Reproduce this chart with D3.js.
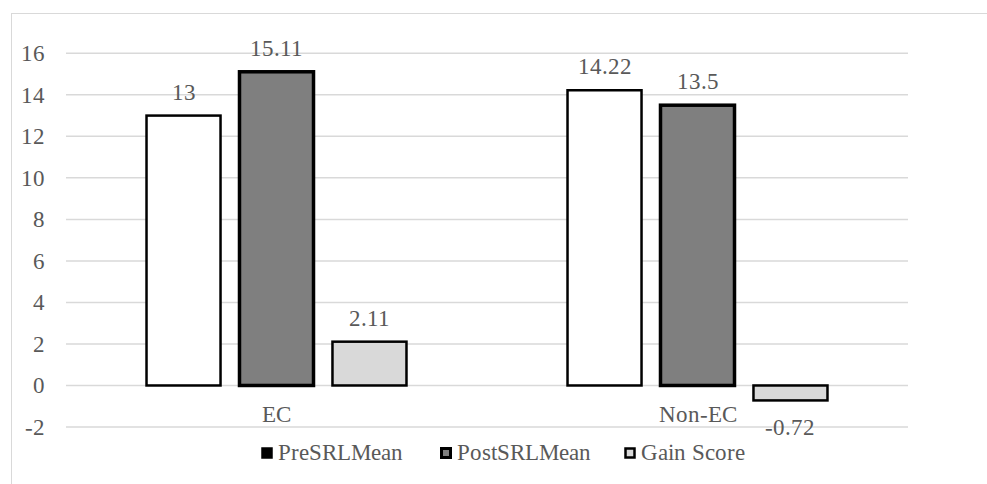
<!DOCTYPE html>
<html>
<head>
<meta charset="utf-8">
<script src="https://cdn.jsdelivr.net/npm/d3@7"></script>
<style>
  @font-face { font-family: "ChartSerif"; src: local("Liberation Serif"), local("LiberationSerif"), local("Times New Roman"); }
  body { margin: 0; }
  #chart text { font-family: "ChartSerif", "Liberation Serif", "Times New Roman", serif; }
</style>
</head>
<body>
<svg id="chart" width="987" height="484"></svg>
<script>
const categories = ["EC", "Non-EC"];
const seriesNames = ["PreSRLMean", "PostSRLMean", "Gain Score"];
const preValues  = [13, 14.22];
const postValues = [15.11, 13.5];
const gainValues = [2.11, -0.72];
const yTicks = [-2, 0, 2, 4, 6, 8, 10, 12, 14, 16];

const seriesStyle = {
    "PreSRLMean":  { fill: "#ffffff", sw: 2.5 },
    "PostSRLMean": { fill: "#7f7f7f", sw: 3.5 },
    "Gain Score":  { fill: "#d9d9d9", sw: 2.5 }
};

const svg = d3.select("#chart");
const fontSize = "23px";
const textColor = "#595959";

function styleText(sel) {
    return sel.attr("font-family", "Liberation Serif")
        .attr("font-size", fontSize)
        .attr("fill", textColor);
}

// chart frame
svg.append("rect")
    .attr("x", 11.5).attr("y", 13.5)
    .attr("width", 1000).attr("height", 500)
    .attr("fill", "none")
    .attr("stroke", "#d9d9d9");

const left = 66, right = 908;
const y = d3.scaleLinear().domain([-2, 16]).range([427, 53.3]);

const x0 = d3.scaleBand().domain(categories).range([left, right]);
const x1 = d3.scaleBand().domain(seriesNames)
    .range([0, x0.bandwidth()])
    .paddingInner(0.204)
    .paddingOuter(0.866);

// gridlines
svg.append("g").selectAll("line")
    .data(yTicks)
    .enter().append("line")
    .attr("x1", left).attr("x2", right)
    .attr("y1", d => y(d)).attr("y2", d => y(d))
    .attr("stroke", "#d9d9d9")
    .attr("stroke-width", 1.5);

// y tick labels
svg.append("g").selectAll("text")
    .data(yTicks)
    .enter().append("text")
    .call(styleText)
    .attr("x", 45)
    .attr("y", d => y(d) + 8)
    .attr("text-anchor", "end")
    .text(d => d);

const rows = [];
categories.forEach((c, i) => {
    rows.push({ cat: c, series: "PreSRLMean",  value: preValues[i] });
    rows.push({ cat: c, series: "PostSRLMean", value: postValues[i] });
    rows.push({ cat: c, series: "Gain Score",  value: gainValues[i] });
});

svg.append("g").selectAll("rect")
    .data(rows)
    .enter().append("rect")
    .attr("x", d => x0(d.cat) + x1(d.series))
    .attr("width", x1.bandwidth())
    .attr("y", d => y(Math.max(0, d.value)))
    .attr("height", d => Math.abs(y(d.value) - y(0)))
    .attr("fill", d => seriesStyle[d.series].fill)
    .attr("stroke", "#000")
    .attr("stroke-width", d => seriesStyle[d.series].sw);

// value labels
svg.append("g").selectAll("text")
    .data(rows)
    .enter().append("text")
    .call(styleText)
    .attr("x", d => x0(d.cat) + x1(d.series) + x1.bandwidth() / 2)
    .attr("y", d => d.value >= 0 ? y(d.value) - 16 : y(d.value) + 35)
    .attr("text-anchor", "middle")
    .text(d => d.value);

// category labels
svg.append("g").selectAll("text")
    .data(categories)
    .enter().append("text")
    .call(styleText)
    .attr("x", d => x0(d) + x0.bandwidth() / 2)
    .attr("y", 422)
    .attr("text-anchor", "middle")
    .text(d => d);

// legend (item offsets from the reference)
const legend = svg.append("g");
const legendX = [261, 440, 624];
seriesNames.forEach((s, i) => {
    legend.append("rect")
        .attr("x", legendX[i] + 1.5).attr("y", 448.5)
        .attr("width", 9).attr("height", 9)
        .attr("fill", i === 0 ? "#000" : seriesStyle[s].fill)
        .attr("stroke", "#000")
        .attr("stroke-width", i === 1 ? 3 : 2.5);
    legend.append("text")
        .call(styleText)
        .attr("x", legendX[i] + 17)
        .attr("y", 460)
        .text(s);
});
</script>
</body>
</html>
